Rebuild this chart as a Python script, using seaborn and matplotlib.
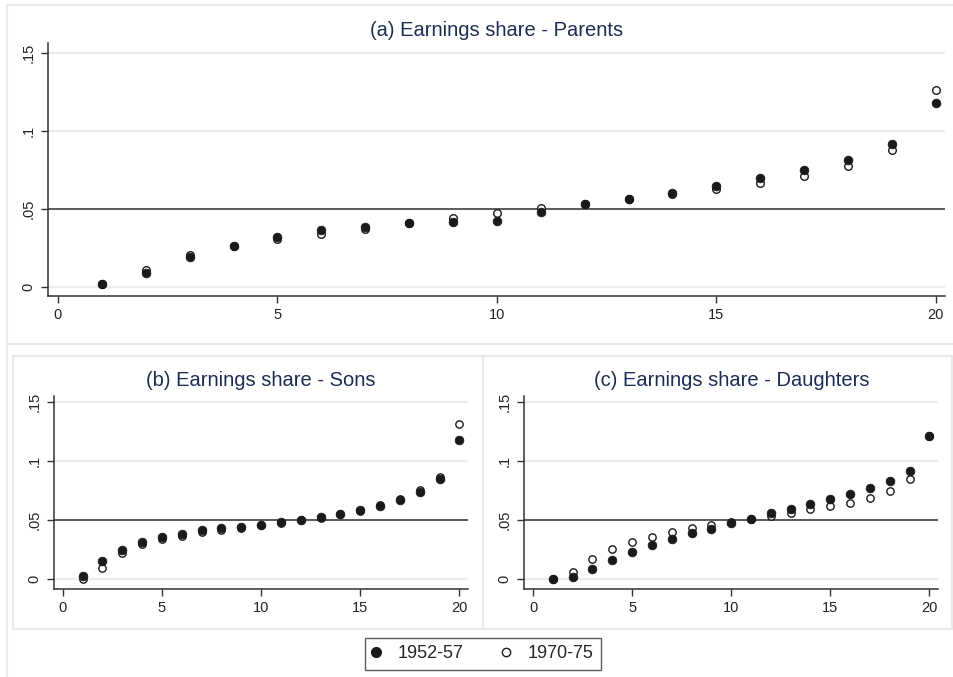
import matplotlib
matplotlib.use("Agg")
import matplotlib.pyplot as plt
from matplotlib.lines import Line2D
from matplotlib.patches import Rectangle
import numpy as np
import pandas as pd
import seaborn as sns

sns.set_theme(style="white")
plt.rcParams["font.family"] = ["Liberation Sans", "DejaVu Sans"]

# Vintile of the earnings distribution
vintile = list(range(1, 21))

# (a) Parents
parents_1952 = [0.002, 0.009, 0.019, 0.026, 0.032, 0.036, 0.0385, 0.0405, 0.0415, 0.0423,
                0.0477, 0.0528, 0.0562, 0.0603, 0.0647, 0.0695, 0.0748, 0.081, 0.0913, 0.1178]
parents_1970 = [0.002, 0.0105, 0.020, 0.026, 0.0304, 0.0336, 0.0368, 0.0405, 0.0438, 0.0474,
                0.0503, 0.0528, 0.0562, 0.0592, 0.0624, 0.0663, 0.071, 0.0772, 0.0876, 0.1263]

# (b) Sons
sons_1952 = [0.0028, 0.0156, 0.0249, 0.0317, 0.036, 0.0385, 0.0414, 0.0431, 0.0445, 0.0462,
             0.0484, 0.0504, 0.0527, 0.0552, 0.0584, 0.0623, 0.0669, 0.0737, 0.0847, 0.1178]
sons_1970 = [0.0, 0.0099, 0.0221, 0.0297, 0.034, 0.0365, 0.0397, 0.042, 0.0436, 0.0456,
             0.0476, 0.0504, 0.0521, 0.0552, 0.0581, 0.0632, 0.0683, 0.0756, 0.087, 0.1312]

# (c) Daughters
daughters_1952 = [0.0, 0.0017, 0.0088, 0.0164, 0.0234, 0.0294, 0.0345, 0.039, 0.0429, 0.0475,
                  0.0511, 0.0559, 0.0599, 0.0641, 0.0684, 0.0726, 0.0774, 0.0833, 0.0918, 0.1215]
daughters_1970 = [0.0, 0.0062, 0.0175, 0.0257, 0.0314, 0.0359, 0.0398, 0.0432, 0.0458, 0.0489,
                  0.0511, 0.054, 0.0565, 0.0593, 0.0619, 0.065, 0.0689, 0.0746, 0.085, 0.1215]

cohorts = ["1952-57", "1970-75"]
titles = ["(a) Earnings share - Parents", "(b) Earnings share - Sons",
          "(c) Earnings share - Daughters"]
x_ticks = [0, 5, 10, 15, 20]
y_ticks = [0, 0.05, 0.1, 0.15]
y_ticklabels = ["0", ".05", ".1", ".15"]
reference_share = 0.05

W, H = 954, 677
fig = plt.figure(figsize=(W / 100, H / 100), dpi=100)
fig.patch.set_facecolor("white")

TITLE_COLOR = "#1c2d54"
FRAME_COLOR = "#e9e9e9"
AXIS_COLOR = "#333333"


def px_rect(left, top, right, bottom):
    return [left / W, 1 - bottom / H, (right - left) / W, (bottom - top) / H]


# panel frames
for (l, t, r, b) in [(7, 5, 956, 344), (13, 356, 483, 629), (483, 356, 952, 629)]:
    fig.patches.append(Rectangle((l / W, 1 - b / H), (r - l) / W, (b - t) / H,
                                 transform=fig.transFigure, fill=False,
                                 edgecolor=FRAME_COLOR, linewidth=1.5, zorder=0))
fig.add_artist(Line2D([7 / W, 7 / W], [0, 1 - 5 / H], transform=fig.transFigure,
                      color=FRAME_COLOR, linewidth=1.5, zorder=0))

panels = [
    dict(rect=px_rect(48.3, 43.3, 945, 296), xlim=(-0.221, 20.21), ylim=(-0.006, 0.156),
         data=(parents_1952, parents_1970), title=titles[0], ty=30, s1=40, s2=30),
    dict(rect=px_rect(54, 395.7, 468.3, 588.7), xlim=(-0.44, 20.45), ylim=(-0.008, 0.1556),
         data=(sons_1952, sons_1970), title=titles[1], ty=381, s1=40, s2=28),
    dict(rect=px_rect(524.3, 395.7, 938.3, 588.7), xlim=(-0.44, 20.45), ylim=(-0.008, 0.1556),
         data=(daughters_1952, daughters_1970), title=titles[2], ty=381, s1=40, s2=28),
]

for p in panels:
    ax = fig.add_axes(p["rect"])
    ax.set_facecolor("white")
    y_old, y_new = p["data"]
    df = pd.DataFrame({"vintile": vintile * 2,
                       "share": list(y_old) + list(y_new),
                       "cohort": [cohorts[0]] * 20 + [cohorts[1]] * 20})
    for yv in y_ticks:
        ax.axhline(yv, color="#ececec", linewidth=1.6, zorder=0)
    ax.axhline(reference_share, color=AXIS_COLOR, linewidth=1.1, zorder=1)
    sns.scatterplot(data=df[df.cohort == cohorts[1]], x="vintile", y="share", ax=ax,
                    s=p["s2"], color="white", edgecolor="#1a1a1a", linewidth=1.0,
                    zorder=3, legend=False)
    sns.scatterplot(data=df[df.cohort == cohorts[0]], x="vintile", y="share", ax=ax,
                    s=p["s1"], color="#1a1a1a", edgecolor="#1a1a1a", linewidth=0.5,
                    zorder=4, legend=False)
    ax.set_xlim(*p["xlim"])
    ax.set_ylim(*p["ylim"])
    ax.set_xticks(x_ticks)
    ax.set_xticklabels([str(v) for v in x_ticks])
    ax.set_yticks(y_ticks)
    ax.set_yticklabels(y_ticklabels, rotation=90, va="center")
    ax.set_xlabel("")
    ax.set_ylabel("")
    for side in ["top", "right"]:
        ax.spines[side].set_visible(False)
    for side in ["left", "bottom"]:
        ax.spines[side].set_color(AXIS_COLOR)
        ax.spines[side].set_linewidth(1.1)
    ax.tick_params(axis="both", which="both", direction="out", length=5, width=1,
                   color=AXIS_COLOR, labelsize=10.5, labelcolor="#222222", pad=4,
                   bottom=True, left=True)
    l, b, w, h = p["rect"]
    fig.text(l + w / 2, 1 - p["ty"] / H, p["title"], ha="center", va="center",
             fontsize=14.5, color=TITLE_COLOR)

handles = [
    Line2D([], [], linestyle="none", marker="o", markersize=7, markerfacecolor="#1a1a1a",
           markeredgecolor="#1a1a1a", label=cohorts[0]),
    Line2D([], [], linestyle="none", marker="o", markersize=6, markerfacecolor="white",
           markeredgecolor="#1a1a1a", markeredgewidth=1.0, label=cohorts[1]),
]
leg = fig.legend(handles=handles, loc="center", ncol=2,
                 bbox_to_anchor=(483 / W, 1 - 654 / H), frameon=True, fancybox=False,
                 fontsize=13, handletextpad=0.97, columnspacing=2.2, borderpad=0.4,
                 handlelength=0.4)
leg.get_frame().set_edgecolor("#333333")
leg.get_frame().set_linewidth(1.0)

fig.savefig("out.png", dpi=100, facecolor="white")
